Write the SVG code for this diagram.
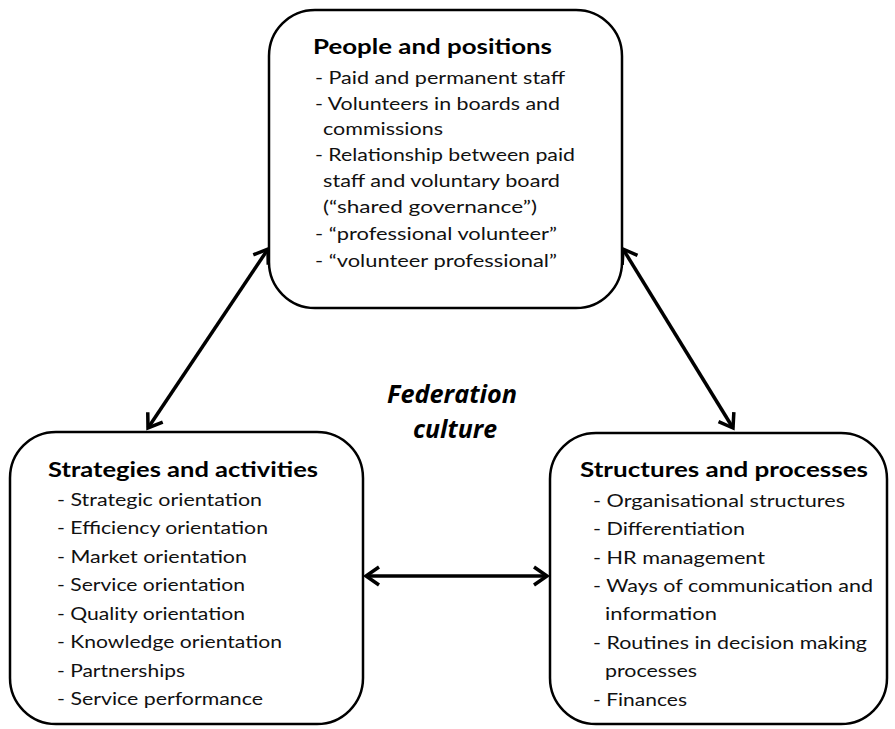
<svg xmlns="http://www.w3.org/2000/svg" width="895" height="729" viewBox="0 0 895 729">
<defs>
<style>
.box{fill:#fff;stroke:#000;stroke-width:2.5}
.t{font-family:Lato,"Open Sans","Liberation Sans",sans-serif;fill:#111}
.h{font-size:20px;font-weight:bold;fill:#000}
.i{font-size:18px}
.c{font-family:"Open Sans",Lato,"Liberation Sans",sans-serif;font-size:25px;font-weight:bold;font-style:italic;text-anchor:middle}
.arr{stroke:#000;stroke-width:3.5;fill:none;marker-start:url(#ah);marker-end:url(#ah)}
</style>
<marker id="ah" markerUnits="userSpaceOnUse" markerWidth="24" markerHeight="24" refX="16" refY="10" orient="auto-start-reverse" overflow="visible">
<path d="M3,1 L16,10 L3,19" fill="none" stroke="#000" stroke-width="3.5" stroke-linejoin="miter"/>
</marker>
</defs>
<rect width="895" height="729" fill="#fff"/>
<g id="connectors">
<line class="arr" x1="268" y1="249" x2="148" y2="428"/>
<line class="arr" x1="623" y1="249" x2="733" y2="428"/>
<line class="arr" x1="366" y1="576" x2="547" y2="576"/>
</g>
<g id="people">
<rect class="box" x="269" y="10" width="353" height="298" rx="46" ry="46"/>
<text class="t h" x="313" y="54" textLength="239" lengthAdjust="spacingAndGlyphs">People and positions</text>
<text class="t i" x="315" y="84" textLength="250" lengthAdjust="spacingAndGlyphs">- Paid and permanent staff</text>
<text class="t i" x="315" y="110" textLength="245" lengthAdjust="spacingAndGlyphs">- Volunteers in boards and</text>
<text class="t i" x="323" y="135" textLength="120" lengthAdjust="spacingAndGlyphs">commissions</text>
<text class="t i" x="315" y="161" textLength="260" lengthAdjust="spacingAndGlyphs">- Relationship between paid</text>
<text class="t i" x="323" y="187" textLength="237" lengthAdjust="spacingAndGlyphs">staff and voluntary board</text>
<text class="t i" x="323" y="213" textLength="214" lengthAdjust="spacingAndGlyphs">(“shared governance”)</text>
<text class="t i" x="315" y="240" textLength="242" lengthAdjust="spacingAndGlyphs">- “professional volunteer”</text>
<text class="t i" x="315" y="267" textLength="242" lengthAdjust="spacingAndGlyphs">- “volunteer professional”</text>
</g>
<g id="culture">
<text class="c" x="452" y="403" textLength="130" lengthAdjust="spacingAndGlyphs">Federation</text>
<text class="c" x="455" y="438" textLength="84" lengthAdjust="spacingAndGlyphs">culture</text>
</g>
<g id="strategies">
<rect class="box" x="10" y="432" width="353" height="292" rx="46" ry="46"/>
<text class="t h" x="48" y="477" textLength="270" lengthAdjust="spacingAndGlyphs">Strategies and activities</text>
<text class="t i" x="57" y="506" textLength="205" lengthAdjust="spacingAndGlyphs">- Strategic orientation</text>
<text class="t i" x="57" y="534" textLength="211" lengthAdjust="spacingAndGlyphs">- Efficiency orientation</text>
<text class="t i" x="57" y="563" textLength="190" lengthAdjust="spacingAndGlyphs">- Market orientation</text>
<text class="t i" x="57" y="591" textLength="188" lengthAdjust="spacingAndGlyphs">- Service orientation</text>
<text class="t i" x="57" y="620" textLength="188" lengthAdjust="spacingAndGlyphs">- Quality orientation</text>
<text class="t i" x="57" y="648" textLength="225" lengthAdjust="spacingAndGlyphs">- Knowledge orientation</text>
<text class="t i" x="57" y="677" textLength="128" lengthAdjust="spacingAndGlyphs">- Partnerships</text>
<text class="t i" x="57" y="705" textLength="206" lengthAdjust="spacingAndGlyphs">- Service performance</text>
</g>
<g id="structures">
<rect class="box" x="550" y="433" width="337" height="291" rx="46" ry="46"/>
<text class="t h" x="580" y="477" textLength="288" lengthAdjust="spacingAndGlyphs">Structures and processes</text>
<text class="t i" x="593" y="507" textLength="252" lengthAdjust="spacingAndGlyphs">- Organisational structures</text>
<text class="t i" x="593" y="535" textLength="152" lengthAdjust="spacingAndGlyphs">- Differentiation</text>
<text class="t i" x="593" y="564" textLength="172" lengthAdjust="spacingAndGlyphs">- HR management</text>
<text class="t i" x="593" y="592" textLength="280" lengthAdjust="spacingAndGlyphs">- Ways of communication and</text>
<text class="t i" x="605" y="620" textLength="112" lengthAdjust="spacingAndGlyphs">information</text>
<text class="t i" x="593" y="649" textLength="274" lengthAdjust="spacingAndGlyphs">- Routines in decision making</text>
<text class="t i" x="605" y="677" textLength="92" lengthAdjust="spacingAndGlyphs">processes</text>
<text class="t i" x="593" y="706" textLength="94" lengthAdjust="spacingAndGlyphs">- Finances</text>
</g>
</svg>
